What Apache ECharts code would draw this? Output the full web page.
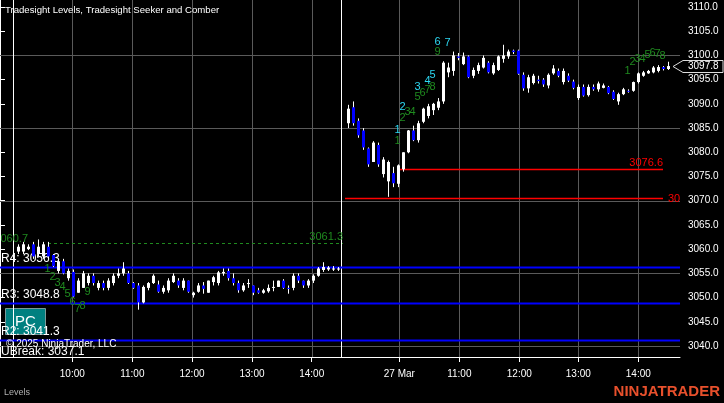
<!DOCTYPE html>
<html><head><meta charset="utf-8">
<script src="https://cdn.jsdelivr.net/npm/echarts@6/dist/echarts.min.js"></script>
<style>html,body{margin:0;padding:0;background:#000;}#c{width:724px;height:403px;}</style>
</head><body><div id="c"></div>
<script>
// ---------- DATA ----------
const day1Start = 3;   // bar slot index of first bar, day 1 (5-minute slots)
const day1 = [ // [open, close, low, high]
[3059.5,3060.5,3059,3061],[3059.5,3061,3059,3061.5],[3060,3060.5,3059.8,3061],[3061,3058.5,3058,3061.5],
[3059,3060.5,3058.5,3062],[3058.5,3061,3058,3061.5],[3060.5,3058.5,3058,3061.5],[3058.8,3056.5,3056.3,3059],
[3055.5,3057.5,3055,3058],[3057.5,3055,3054.8,3058],[3054,3055.5,3053.5,3056],[3055.3,3050.2,3050,3055.8],
[3051,3053.5,3051,3054],[3052,3055,3052,3055.5],[3053,3054.5,3052.5,3055],[3054.5,3053,3052.5,3055],
[3052,3053,3051.5,3053.5],[3053,3052,3051.5,3053.5],[3052,3053.5,3051.5,3054],[3053,3054.5,3052.5,3055],
[3054.5,3055,3054,3056],[3055,3056,3054.5,3057.3],[3055,3053,3052.8,3055.5],[3053,3052,3051.8,3053.2],
[3052.5,3049,3047.5,3053],[3049,3052.2,3048.8,3052.5],[3052,3053,3051.5,3053.2],[3053,3054.5,3052.8,3054.8],
[3052.7,3051.2,3051,3053.5],[3051.2,3052,3050.8,3052.5],[3051.5,3053.5,3051,3054],[3053.2,3054.5,3053,3055],
[3053.5,3052.5,3052,3054],[3052,3053.5,3051.5,3054],[3053.5,3051.2,3051,3053.5],[3050.5,3051,3050,3051.2],
[3051.2,3052.5,3051,3053],[3052.5,3051.8,3050.8,3053.2],[3051,3053.5,3051,3053.5],[3053.2,3054.2,3052.5,3054.5],
[3053,3055.2,3052.5,3055.5],[3055,3055.3,3054.5,3056],[3055.5,3054,3053.5,3056],[3054,3053,3052.5,3055],
[3053,3051.5,3051,3053.5],[3051.5,3052.5,3051.2,3053],[3052.8,3053,3052,3053.8],[3052.5,3051,3050.5,3052.5],
[3051.5,3051,3050.8,3052],[3051,3051.5,3050.8,3051.8],[3051.3,3052,3051,3052.7],[3052,3052.2,3051.3,3053.5],
[3052.2,3053.5,3052.2,3053.5],[3053.5,3052,3051.8,3053.8],[3052,3051.8,3050.8,3052.5],[3052,3054.5,3051.5,3055],
[3054.5,3053.5,3053,3055],[3053.5,3052.5,3052,3053.5],[3052.5,3053.5,3052,3053.8],[3053.5,3054.5,3053,3054.8],
[3054.5,3056,3054.3,3056.3],[3055.7,3056.3,3055.3,3057.3],[3055.8,3056.2,3055.5,3056.5],[3055.8,3056,3055.5,3056.5],
[3055.8,3056,3055.5,3056.3]
];
const day2Start = 69;
const day2 = [
[3086,3089,3085,3089.8],[3089.3,3086,3085.5,3090.5],[3086.5,3083.5,3083,3087],[3084.5,3081,3080.5,3085],
[3080.8,3077.5,3077,3081],[3078,3082,3078,3082.3],[3081.5,3077.5,3077,3082],[3075.5,3078.5,3074.8,3079],
[3074,3078,3070.8,3078.3],[3075.7,3073.6,3072.8,3077],[3073.5,3077.3,3072.8,3077.5],[3076.5,3080,3076,3080],
[3080,3084.5,3079.8,3084.6],[3084.5,3082.5,3082.3,3085.5],[3082.5,3086,3082,3086.5],[3086.3,3089,3086,3089.2],
[3087.5,3089.5,3087,3090],[3088.7,3090,3087.7,3090.2],[3089.2,3090.5,3088.7,3091.2],[3090.5,3098.5,3090,3098.8],
[3096.5,3097.5,3095.5,3098.5],[3096.8,3100,3095.8,3100.8],[3099.8,3099.5,3099,3100.5],[3098.2,3099.8,3098,3100.6],
[3099.8,3095.5,3095.3,3100],[3095.8,3097,3095.3,3097.5],[3096.8,3098,3096.2,3098.5],[3097.5,3099.5,3097.3,3100],
[3098.5,3096.5,3096.3,3098.8],[3096.3,3098,3096,3098.5],[3097,3099.8,3096.8,3100],[3099.3,3100,3098.5,3102.2],
[3099.8,3100.8,3099.3,3101.2],[3101,3100.7,3100.3,3101.2],[3101,3096.2,3096,3101.2],[3096,3093.2,3092.7,3096.5],
[3093.2,3095.5,3092.3,3096],[3094.3,3095.8,3094,3096.2],[3095,3094.7,3094.2,3095.8],[3095,3094,3093.5,3095.3],
[3093.8,3096,3093.2,3096.3],[3096.3,3097.3,3096,3098],[3096.8,3095.8,3095.5,3097.3],[3094.5,3096.8,3094,3097.3],
[3095.8,3094.8,3094.5,3096.3],[3094.6,3093.3,3093,3095],[3091.2,3093.5,3090.8,3094],[3093.5,3091.7,3091.5,3094],
[3091.8,3093.5,3091.5,3094],[3093.5,3093,3092.7,3094],[3093,3094.2,3092.5,3094.6],[3093.3,3093.8,3093.2,3094.2],
[3093.5,3092.2,3092,3093.7],[3092.5,3091,3090.8,3092.8],[3090.5,3092,3089.8,3092.3],[3092,3093,3091.8,3093.3],
[3092.7,3092.5,3092.3,3093],[3092.7,3094.5,3092.5,3094.6],[3094.5,3096.3,3094.2,3096.5],[3095.8,3096.5,3095.6,3096.8],
[3096.3,3096.8,3096.2,3097],[3096.5,3097.5,3096.3,3097.8],[3096.8,3097.6,3096.5,3098],[3097.6,3097.2,3096.9,3097.8],
[3097.2,3097.8,3097,3098.7]
];
const lastPrice = 3097.8;

// time axis (slot units) and labels
const hourTicks = [14.46, 26.46, 38.4, 50.4, 62.34, 79.86, 91.86, 103.86, 115.66, 127.66];
const hourLabels = ['10:00','11:00','12:00','13:00','14:00','27 Mar','11:00','12:00','13:00','14:00'];
const sessionBreaks = [2.66, 68.2];
const priceTicks = [3040,3045,3050,3055,3060,3065,3070,3075,3080,3085,3090,3095,3100,3105,3110];
const priceGrid = [3040,3055,3070,3085,3100];

// Tradesight levels
const levelNames = ['R4','R3','R2','UBreak'];
const levelValues = [3056.3, 3048.8, 3041.3, 3037.1];

// horizontal signal lines: value, start slot, end slot, label side
const sigValues = [3061.3, 3076.6, 3070.6];
const sigStart  = [9.6, 79.8, 69.0];
const sigEnd    = [68.6, 132.6, 132.6];
const sigKind   = ['dash', 'red', 'red'];
const sigLabelSide = ['endAbove', 'endAbove', 'after'];
const leftTagValue = 3060.7;

// Seeker / Comber counts
const seekIdx = [9,10,11,12,13,14,15,16,17, 79,80,81,82,83,84,85,86,87, 79,80,83,85,86,87,89, 125,126,127,128,129,130,131,132];
const seekVal = [3055.9,3054.2,3053.0,3052.2,3050.7,3049.1,3047.6,3048.3,3051.1,
  3082.3,3087.1,3088.3,3088.3,3091.4,3092.2,3092.9,3093.5,3100.7,
  3084.6,3089.3,3093.5,3094.7,3096.0,3102.8,3102.6,
  3096.8,3098.6,3099.3,3099.3,3100.1,3100.5,3100.3,3099.9];
const seekTxt = ['1','2','3','4','5','6','7','8','9','1','2','3','4','5','6','7','8','9','1','2','3','4','5','6','7','1','2','3','4','5','6','7','8'];
const seekKind = ['g','g','g','g','g','g','g','g','g','g','g','g','g','g','g','g','g','g','c','c','c','c','c','c','c','g','g','g','g','g','g','g','g'];

// ---------- CHART ----------
const FONT = 'Liberation Sans, Arial, sans-serif';
const bars = [];
day1.forEach((r,k)=>bars.push([day1Start+k+0.5, r[0], r[1], r[2], r[3]]));
day2.forEach((r,k)=>bars.push([day2Start+k+0.5, r[0], r[1], r[2], r[3]]));

const chart = echarts.init(document.getElementById('c'), null, {renderer:'canvas'});

function hLineItem(params, api, color) {
  const cs = params.coordSys;
  const y = Math.round(api.coord([0, api.value(0)])[1]) + 0.5;
  return {type:'line', shape:{x1:cs.x, y1:y, x2:cs.x+cs.width, y2:y}, style:{stroke:color, lineWidth:1}};
}
function vLineItem(params, api, color) {
  const cs = params.coordSys;
  const x = Math.round(api.coord([api.value(0), 3070])[0]) + 0.5;
  return {type:'line', shape:{x1:x, y1:cs.y, x2:x, y2:cs.y+cs.height}, style:{stroke:color, lineWidth:1}};
}

const option = {
  backgroundColor:'#000',
  animation:false,
  grid:{left:0, top:0, width:680, height:357, containLabel:false},
  xAxis:{type:'value', min:0, max:136, position:'bottom',
    axisLine:{show:true, lineStyle:{color:'#fff', width:1}},
    axisTick:{show:true, length:5, lineStyle:{color:'#fff'}, customValues:hourTicks},
    axisLabel:{show:true, color:'#fff', fontSize:10, fontFamily:FONT, margin:12, customValues:hourTicks,
      formatter:v=>{const k=hourTicks.findIndex(t=>Math.abs(t-v)<1e-6); return k>=0?hourLabels[k]:'';}},
    splitLine:{show:false}},
  yAxis:{type:'value', position:'right', min:3037.729, max:3111.445,
    axisLine:{show:true, lineStyle:{color:'#fff', width:1}},
    axisTick:{show:true, length:5, lineStyle:{color:'#fff'}, customValues:priceTicks},
    axisLabel:{show:true, color:'#fff', fontSize:10, fontFamily:FONT, margin:8, customValues:priceTicks,
      formatter:v=>v.toFixed(1)},
    splitLine:{show:false}},
  series:[
    {type:'custom', z:1, silent:true, data:priceGrid.map(v=>[v]),
      renderItem:(p,api)=>hLineItem(p,api,'#5a5a5a')},
    {type:'custom', z:1, silent:true, data:hourTicks.map(v=>[v]),
      renderItem:(p,api)=>vLineItem(p,api,'#5a5a5a')},
    {type:'custom', z:2, silent:true, data:sessionBreaks.map(v=>[v]),
      renderItem:(p,api)=>vLineItem(p,api,'#ffffff')},
    {type:'custom', z:3, silent:true, clip:true, data:levelValues.map(v=>[v]),
      renderItem:(p,api)=>{
        const cs=p.coordSys; const y=Math.round(api.coord([0,api.value(0)])[1])+0.5;
        return {type:'group', children:[
          {type:'line', shape:{x1:cs.x,y1:y,x2:cs.x+cs.width,y2:y}, style:{stroke:'#0000ff', lineWidth:2}},
          {type:'text', x:1, y:y-3, style:{text:levelNames[p.dataIndex]+': '+levelValues[p.dataIndex].toFixed(1),
            fill:'#fff', font:'12px '+FONT, textAlign:'left', textVerticalAlign:'bottom'}}
        ]};
      }},
    {type:'custom', z:3, silent:true, clip:true, data:sigValues.map((v,k)=>[sigStart[k], v, sigEnd[k]]),
      renderItem:(p,api)=>{
        const k=p.dataIndex; const kind=sigKind[k];
        const a=api.coord([api.value(0), api.value(1)]); const b=api.coord([api.value(2), api.value(1)]);
        const y=Math.round(a[1])+0.5;
        const col = kind==='dash' ? '#1f8a1f' : '#ff0000';
        const ch=[{type:'line', shape:{x1:a[0],y1:y,x2:b[0],y2:y},
          style:{stroke:col, lineWidth: kind==='dash'?1:1.5, lineDash: kind==='dash'?[3,3]:null}}];
        const txt=sigValues[k].toFixed(1);
        if (sigLabelSide[k]==='endAbove') ch.push({type:'text', x:b[0], y:y-1, style:{text:txt, fill:col, font:'11px '+FONT, textAlign:'right', textVerticalAlign:'bottom'}});
        else ch.push({type:'text', x:b[0]+5, y:y, style:{text:txt, fill:col, font:'11px '+FONT, textAlign:'left', textVerticalAlign:'middle'}});
        return {type:'group', children:ch};
      }},
    {type:'custom', z:3, silent:true, clip:true, data:[[0, leftTagValue]],
      renderItem:(p,api)=>{
        const a=api.coord([api.value(0), api.value(1)]);
        return {type:'text', x:28, y:a[1]-1, style:{text:leftTagValue.toFixed(1), fill:'#1f8a1f', font:'11px '+FONT, textAlign:'right', textVerticalAlign:'bottom'}};
      }},
    {type:'custom', z:4, silent:true, data:bars, encode:{x:0, y:[1,2,3,4]},
      renderItem:(p,api)=>{
        const x=api.value(0), o=api.value(1), c=api.value(2), l=api.value(3), h=api.value(4);
        const pO=api.coord([x,o]), pC=api.coord([x,c]), pL=api.coord([x,l]), pH=api.coord([x,h]);
        const cx=Math.round(pO[0])+0.5;
        const top=Math.min(pO[1],pC[1]); const bh=Math.max(1,Math.abs(pO[1]-pC[1]));
        const up=c>=o;
        return {type:'group', children:[
          {type:'line', shape:{x1:cx,y1:pH[1],x2:cx,y2:pL[1]}, style:{stroke:'#fff', lineWidth:1}},
          {type:'rect', shape:{x:cx-1.5, y:top, width:3, height:bh}, style:{fill: up?'#ffffff':'#0000ff'}}
        ]};
      }},
    {type:'custom', z:5, silent:true, clip:false,
      data:seekIdx.map((v,k)=>[v+0.5, seekVal[k]]),
      renderItem:(p,api)=>{
        const k=p.dataIndex; const pt=api.coord([api.value(0), api.value(1)]);
        return {type:'text', x:pt[0], y:pt[1], style:{text:seekTxt[k], fill: seekKind[k]==='c' ? '#2cd8f2' : '#1f8a1f',
          font:'11px '+FONT, textAlign:'center', textVerticalAlign:'middle'}};
      }},
    {type:'custom', z:6, silent:true, clip:false, data:[[bars[bars.length-1][0], lastPrice]],
      renderItem:(p,api)=>{
        const cs=p.coordSys; const y=Math.round(api.coord([api.value(0), api.value(1)])[1])+0.5;
        const r=cs.x+cs.width;
        return {type:'group', children:[
          {type:'polygon', shape:{points:[[r-7,y],[r+3,y-6],[r+43,y-6],[r+43,y+6],[r+3,y+6]]},
            style:{fill:'#000', stroke:'#ddd', lineWidth:1}},
          {type:'text', x:r+8, y:y, style:{text:lastPrice.toFixed(1), fill:'#fff', font:'10px '+FONT, textVerticalAlign:'middle'}}
        ]};
      }}
  ],
  graphic:[
    {type:'text', left:5, top:5, z:100, style:{text:'Tradesight Levels, Tradesight Seeker and Comber', fill:'#fff', font:'9.6px '+FONT}},
    {type:'text', left:6, top:339, z:100, style:{text:'© 2025 NinjaTrader, LLC', fill:'#fff', font:'10px '+FONT}},
    {type:'group', left:5, top:308, z:100, children:[
      {type:'rect', shape:{x:0,y:0,width:40,height:26}, style:{fill:'#008080', stroke:'#7a9a9a', lineWidth:1}},
      {type:'text', x:20, y:13, style:{text:'PC', fill:'#fff', font:'15px '+FONT, textAlign:'center', textVerticalAlign:'middle'}}
    ]},
    {type:'text', left:4, top:388, z:100, style:{text:'Levels', fill:'#b0b0b0', font:'9px '+FONT}},
    {type:'text', right:4, top:384, z:100, style:{text:'NINJATRADER', fill:'#e8502c', font:'bold 15px '+FONT}}
  ]
};
chart.setOption(option);
</script>
</body></html>
